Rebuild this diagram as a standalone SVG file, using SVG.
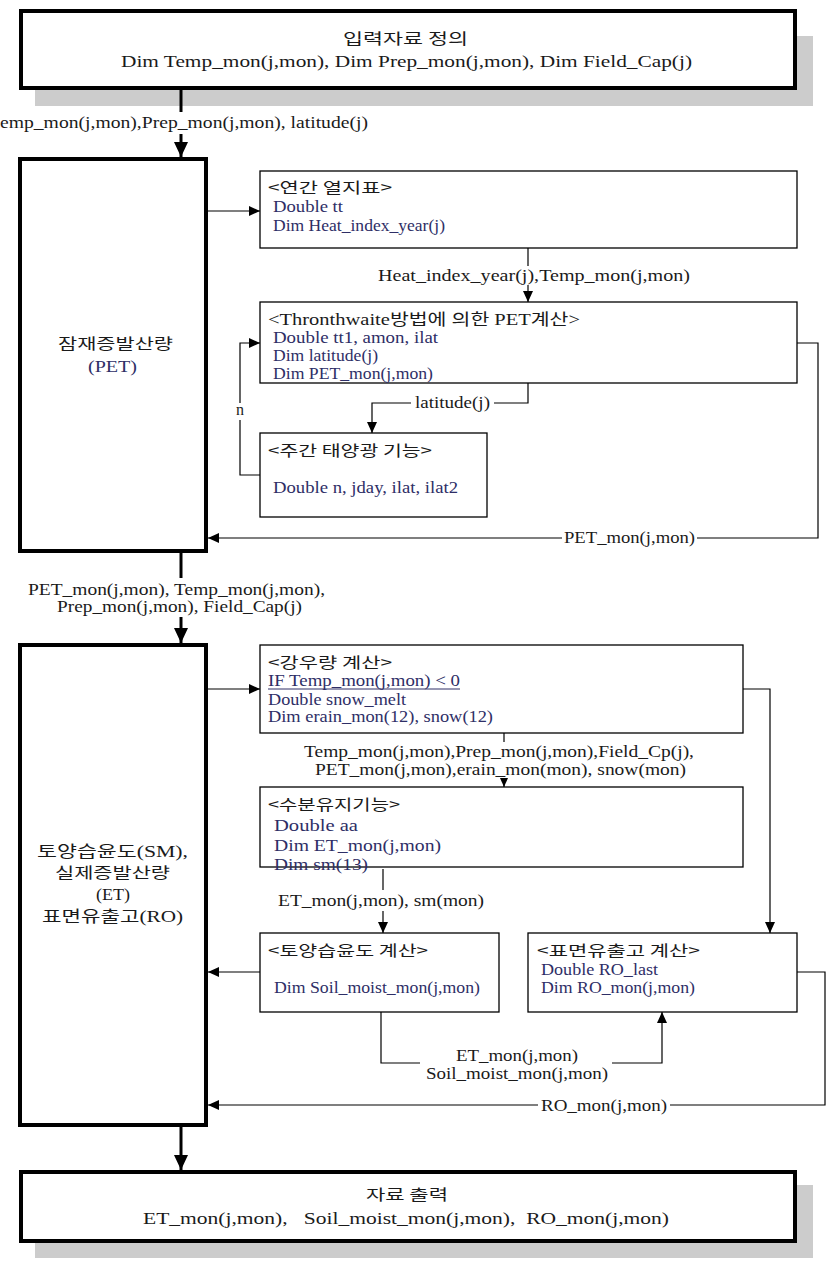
<svg xmlns="http://www.w3.org/2000/svg" width="833" height="1274" viewBox="0 0 833 1274">
<style>
text{font-family:"Liberation Serif","Noto Sans CJK KR",serif;font-size:16px;fill:#1a1a1a;}
.k{font-family:"Noto Sans CJK KR","Liberation Sans",sans-serif;font-size:15px;}
.b{fill:#2e2e66;}
.big{fill:#fff;stroke:#000;stroke-width:4;}
.box{fill:#fff;stroke:#000;stroke-width:1.3;}
.sh{fill:#cccccc;}
.c{fill:none;stroke:#000;stroke-width:1.2;}
.t{fill:none;stroke:#000;stroke-width:3;}
</style>
<defs>
<marker id="ah" markerUnits="userSpaceOnUse" markerWidth="11" markerHeight="10" refX="11" refY="5" orient="auto"><path d="M0,0 L11,5 L0,10 z" fill="#000"/></marker>
<marker id="ahs" markerUnits="userSpaceOnUse" markerWidth="9" markerHeight="8" refX="9" refY="4" orient="auto"><path d="M0,0 L9,4 L0,8 z" fill="#000"/></marker>
<marker id="aht" markerUnits="userSpaceOnUse" markerWidth="15" markerHeight="14" refX="15" refY="7" orient="auto"><path d="M0,0 L15,7 L0,14 z" fill="#000"/></marker>
</defs>

<g id="input">
<rect class="sh" x="35" y="36" width="778" height="70"/>
<rect class="big" x="21" y="11" width="774" height="77"/>
<text class="k" x="343" y="44" textLength="125" lengthAdjust="spacingAndGlyphs" font-size="17">입력자료 정의</text>
<text x="121" y="67" textLength="571" lengthAdjust="spacingAndGlyphs" font-size="17">Dim Temp_mon(j,mon), Dim Prep_mon(j,mon), Dim Field_Cap(j)</text>
</g>

<g id="pet">
<rect class="big" x="20" y="159" width="186" height="392"/>
<text class="k" x="58" y="349" textLength="115" lengthAdjust="spacingAndGlyphs" font-size="16">잠재증발산량</text>
<text class="b" x="88" y="372" textLength="49" lengthAdjust="spacingAndGlyphs" font-size="17">(PET)</text>
</g>

<g id="heat">
<rect class="box" x="260" y="171" width="537" height="77"/>
<text class="k" x="268" y="193" textLength="124" lengthAdjust="spacingAndGlyphs">&lt;연간 열지표&gt;</text>
<text class="b" x="273" y="212" textLength="70" lengthAdjust="spacingAndGlyphs">Double tt</text>
<text class="b" x="273" y="231" textLength="172" lengthAdjust="spacingAndGlyphs">Dim Heat_index_year(j)</text>
</g>

<g id="thorn">
<rect class="box" x="260" y="302" width="537" height="81"/>
<text x="268" y="325" textLength="312" lengthAdjust="spacingAndGlyphs">&lt;Thronthwaite방법에 의한 PET계산&gt;</text>
<text class="b" x="273" y="343" textLength="165" lengthAdjust="spacingAndGlyphs">Double tt1, amon, ilat</text>
<text class="b" x="273" y="361" textLength="105" lengthAdjust="spacingAndGlyphs">Dim latitude(j)</text>
<text class="b" x="273" y="379" textLength="160" lengthAdjust="spacingAndGlyphs">Dim PET_mon(j,mon)</text>
</g>

<g id="sun">
<rect class="box" x="260" y="433" width="227" height="84"/>
<text class="k" x="268" y="456" textLength="164" lengthAdjust="spacingAndGlyphs">&lt;주간 태양광 기능&gt;</text>
<text class="b" x="273" y="493" textLength="185" lengthAdjust="spacingAndGlyphs">Double n, jday, ilat, ilat2</text>
</g>

<g id="sm">
<rect class="big" x="20" y="645" width="186" height="480"/>
<text x="37" y="857" textLength="151" lengthAdjust="spacingAndGlyphs" font-size="17">토양습윤도(SM),</text>
<text class="k" x="55" y="878" textLength="115" lengthAdjust="spacingAndGlyphs" font-size="16">실제증발산량</text>
<text x="96" y="900" textLength="34" lengthAdjust="spacingAndGlyphs" font-size="17">(ET)</text>
<text x="42" y="922" textLength="141" lengthAdjust="spacingAndGlyphs" font-size="17">표면유출고(RO)</text>
</g>

<g id="rain">
<rect class="box" x="260" y="645" width="483" height="88"/>
<text class="k" x="268" y="668" textLength="124" lengthAdjust="spacingAndGlyphs">&lt;강우량 계산&gt;</text>
<text class="b" x="268" y="686" textLength="192" lengthAdjust="spacingAndGlyphs">IF Temp_mon(j,mon) &lt; 0</text>
<line x1="268" y1="689" x2="460" y2="689" stroke="#2e2e66" stroke-width="1"/>
<text class="b" x="268" y="705" textLength="138" lengthAdjust="spacingAndGlyphs">Double snow_melt</text>
<text class="b" x="268" y="722" textLength="225" lengthAdjust="spacingAndGlyphs">Dim erain_mon(12), snow(12)</text>
</g>

<g id="moist">
<rect class="box" x="260" y="787" width="483" height="80"/>
<text class="k" x="268" y="810" textLength="132" lengthAdjust="spacingAndGlyphs">&lt;수분유지기능&gt;</text>
<text class="b" x="274" y="831" textLength="84" lengthAdjust="spacingAndGlyphs" font-size="18">Double aa</text>
<text class="b" x="274" y="851" textLength="167" lengthAdjust="spacingAndGlyphs" font-size="18">Dim ET_mon(j,mon)</text>
<text class="b" x="274" y="870" textLength="94" lengthAdjust="spacingAndGlyphs" font-size="18">Dim sm(13)</text>
</g>

<g id="soil">
<rect class="box" x="260" y="933" width="239" height="79"/>
<text class="k" x="268" y="956" textLength="160" lengthAdjust="spacingAndGlyphs">&lt;토양습윤도 계산&gt;</text>
<text class="b" x="274" y="993" textLength="206" lengthAdjust="spacingAndGlyphs">Dim Soil_moist_mon(j,mon)</text>
</g>

<g id="runoff">
<rect class="box" x="528" y="933" width="269" height="79"/>
<text class="k" x="537" y="956" textLength="163" lengthAdjust="spacingAndGlyphs">&lt;표면유출고 계산&gt;</text>
<text class="b" x="541" y="975" textLength="117" lengthAdjust="spacingAndGlyphs">Double RO_last</text>
<text class="b" x="541" y="993" textLength="154" lengthAdjust="spacingAndGlyphs">Dim RO_mon(j,mon)</text>
</g>

<g id="output">
<rect class="sh" x="35" y="1185" width="778" height="73"/>
<rect class="big" x="21" y="1172" width="774" height="69"/>
<text class="k" x="366" y="1200" textLength="82" lengthAdjust="spacingAndGlyphs" font-size="17">자료 출력</text>
<text x="143" y="1224" textLength="526" lengthAdjust="spacingAndGlyphs" font-size="17" xml:space="preserve">ET_mon(j,mon),   Soil_moist_mon(j,mon),  RO_mon(j,mon)</text>
</g>

<g id="connectors">
<path class="t" d="M181,90 V112"/>
<path class="t" d="M181,134 V157" marker-end="url(#aht)"/>
<path class="t" d="M181,551 V578"/>
<path class="t" d="M181,617 V643" marker-end="url(#aht)"/>
<path class="t" d="M181,1125 V1170" marker-end="url(#aht)"/>

<path class="c" d="M208,211 H260" marker-end="url(#ah)"/>
<path class="c" d="M528,248 V266"/>
<path class="c" d="M528,285 V302" marker-end="url(#ah)"/>
<path class="c" d="M797,343 H818 V538 H697"/>
<path class="c" d="M562,538 H208" marker-end="url(#ah)"/>
<path class="c" d="M528,383 V403 H494"/>
<path class="c" d="M411,403 H372 V433" marker-end="url(#ah)"/>
<path class="c" d="M260,475 H240 V420"/>
<path class="c" d="M240,403 V343 H260" marker-end="url(#ah)"/>
<path class="c" d="M208,689 H260" marker-end="url(#ah)"/>
<path class="c" d="M743,689 H770 V933" marker-end="url(#ah)"/>
<path class="c" d="M504,733 V742"/>
<path class="c" d="M504,779 V787" marker-end="url(#ahs)"/>
<path class="c" d="M383,869 V890"/>
<path class="c" d="M383,911 V933" marker-end="url(#ah)"/>
<path class="c" d="M260,972 H208" marker-end="url(#ah)"/>
<path class="c" d="M381,1012 V1063 H420"/>
<path class="c" d="M612,1063 H662 V1012" marker-end="url(#ah)"/>
<path class="c" d="M797,972 H825 V1105 H670"/>
<path class="c" d="M538,1105 H208" marker-end="url(#ah)"/>

<text x="0" y="128" textLength="368" lengthAdjust="spacingAndGlyphs" font-size="17">emp_mon(j,mon),Prep_mon(j,mon), latitude(j)</text>
<text x="378" y="281" textLength="312" lengthAdjust="spacingAndGlyphs">Heat_index_year(j),Temp_mon(j,mon)</text>
<text x="415" y="408" textLength="75" lengthAdjust="spacingAndGlyphs">latitude(j)</text>
<text x="236" y="415">n</text>
<text x="564" y="543" textLength="131" lengthAdjust="spacingAndGlyphs">PET_mon(j,mon)</text>
<text x="28" y="595" textLength="297" lengthAdjust="spacingAndGlyphs">PET_mon(j,mon), Temp_mon(j,mon),</text>
<text x="57" y="612" textLength="245" lengthAdjust="spacingAndGlyphs">Prep_mon(j,mon), Field_Cap(j)</text>
<text x="304" y="757" textLength="390" lengthAdjust="spacingAndGlyphs">Temp_mon(j,mon),Prep_mon(j,mon),Field_Cp(j),</text>
<text x="315" y="775" textLength="371" lengthAdjust="spacingAndGlyphs">PET_mon(j,mon),erain_mon(mon), snow(mon)</text>
<text x="278" y="906" textLength="206" lengthAdjust="spacingAndGlyphs">ET_mon(j,mon), sm(mon)</text>
<text x="456" y="1061" textLength="122" lengthAdjust="spacingAndGlyphs">ET_mon(j,mon)</text>
<text x="426" y="1079" textLength="182" lengthAdjust="spacingAndGlyphs">Soil_moist_mon(j,mon)</text>
<text x="541" y="1111" textLength="126" lengthAdjust="spacingAndGlyphs">RO_mon(j,mon)</text>
</g>
</svg>
